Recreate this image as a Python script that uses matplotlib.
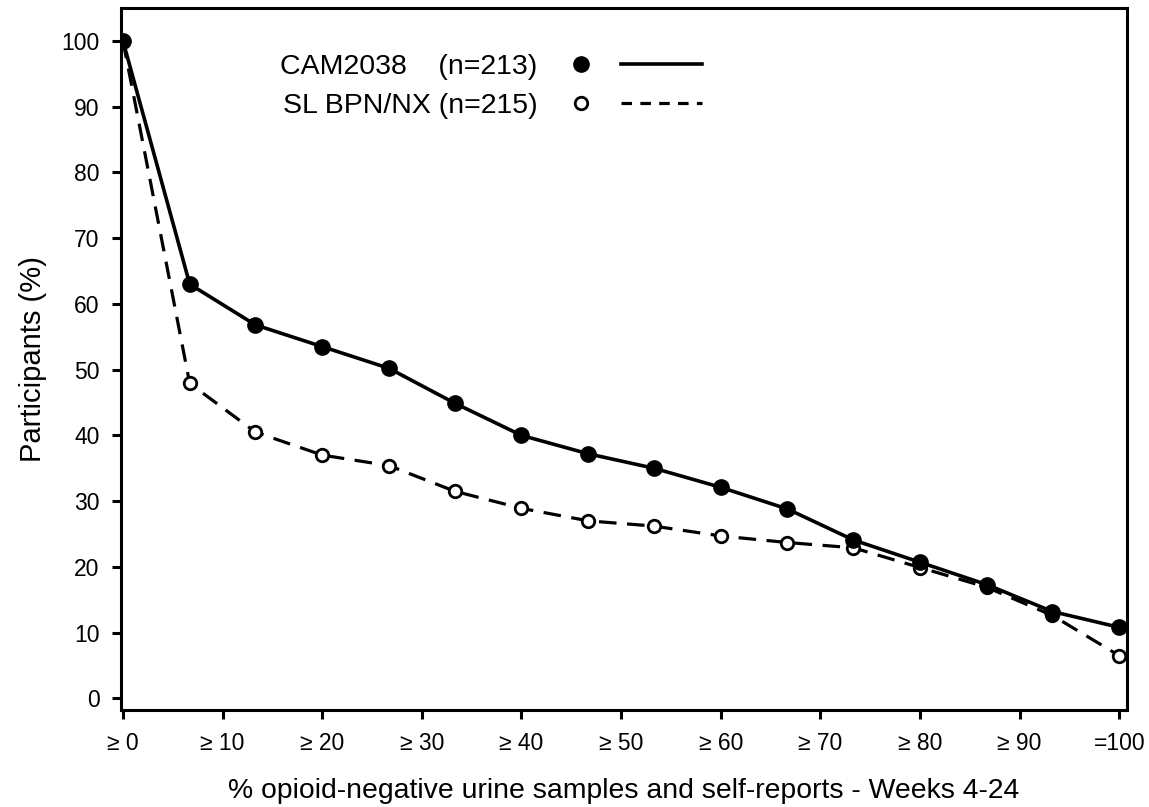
import matplotlib
matplotlib.use("Agg")
import matplotlib.pyplot as plt
from matplotlib.lines import Line2D
from matplotlib.legend_handler import HandlerTuple

plt.rcParams['font.family'] = ['Liberation Sans', 'DejaVu Sans']

# threshold (% negative samples) and share of participants reaching it
pct_negative = [0, 6.7, 13.3, 20, 26.7, 33.3, 40, 46.7, 53.3, 60, 66.7, 73.3, 80, 86.7, 93.3, 100]
cam2038 = [100, 63.0, 56.8, 53.5, 50.2, 44.9, 40.0, 37.2, 35.0, 32.1, 28.8, 24.1, 20.7, 17.3, 13.2, 10.8]
sl_bpn_nx = [100, 47.9, 40.5, 37.0, 35.4, 31.5, 28.9, 27.0, 26.2, 24.7, 23.7, 22.9, 19.9, 16.9, 12.6, 6.5]

xticks = [0, 10, 20, 30, 40, 50, 60, 70, 80, 90, 100]
xticklabels = ['≥ 0', '≥ 10', '≥ 20', '≥ 30', '≥ 40', '≥ 50', '≥ 60', '≥ 70', '≥ 80', '≥ 90', '=100']
yticks = [0, 10, 20, 30, 40, 50, 60, 70, 80, 90, 100]

cam_label = 'CAM2038    (n=213)'
sl_label = 'SL BPN/NX (n=215)'

fig = plt.figure(figsize=(11.49, 8.07), dpi=100)
ax = fig.add_axes([0.1053, 0.120, 0.8757, 0.870])

dash = (0, (5.5, 3.3))
ax.plot(pct_negative, sl_bpn_nx, color='black', lw=2.3, linestyle=dash,
        marker='o', ms=9, mfc='white', mec='black', mew=2, zorder=2)
ax.plot(pct_negative, cam2038, color='black', lw=2.6,
        marker='o', ms=11, mfc='black', mec='black', zorder=3)

ax.set_xlim(-0.2, 100.8)
ax.set_ylim(-1.8, 105)
ax.set_xticks(xticks)
ax.set_xticklabels(xticklabels)
ax.set_yticks(yticks)
ax.tick_params(direction='out', length=6.5, width=2.2, labelsize=16.5, pad=9)
for side in ax.spines.values():
    side.set_linewidth(2.2)

ax.set_xlabel('% opioid-negative urine samples and self-reports - Weeks 4-24',
              fontsize=20.4, labelpad=17)
ax.set_ylabel('Participants (%)', fontsize=21, labelpad=10)

# legend: label, then marker, then line
cam_handles = (Line2D([], [], ls='none', marker='o', ms=11, mfc='black', mec='black'),
               Line2D([], [], color='black', lw=2.6))
sl_handles = (Line2D([], [], ls='none', marker='o', ms=9, mfc='white', mec='black', mew=2),
              Line2D([], [], color='black', lw=2.3, linestyle=(0, (3.3, 2.6))))
ax.legend([cam_handles, sl_handles], [cam_label, sl_label],
          handler_map={tuple: HandlerTuple(ndivide=None, pad=0.0)},
          markerfirst=False, frameon=False, fontsize=20.5,
          handlelength=5.7, handletextpad=0.1, labelspacing=0.45,
          borderpad=0, borderaxespad=0,
          loc='upper left', bbox_to_anchor=(0.158, 0.935))

fig.savefig('out.png', dpi=100)
